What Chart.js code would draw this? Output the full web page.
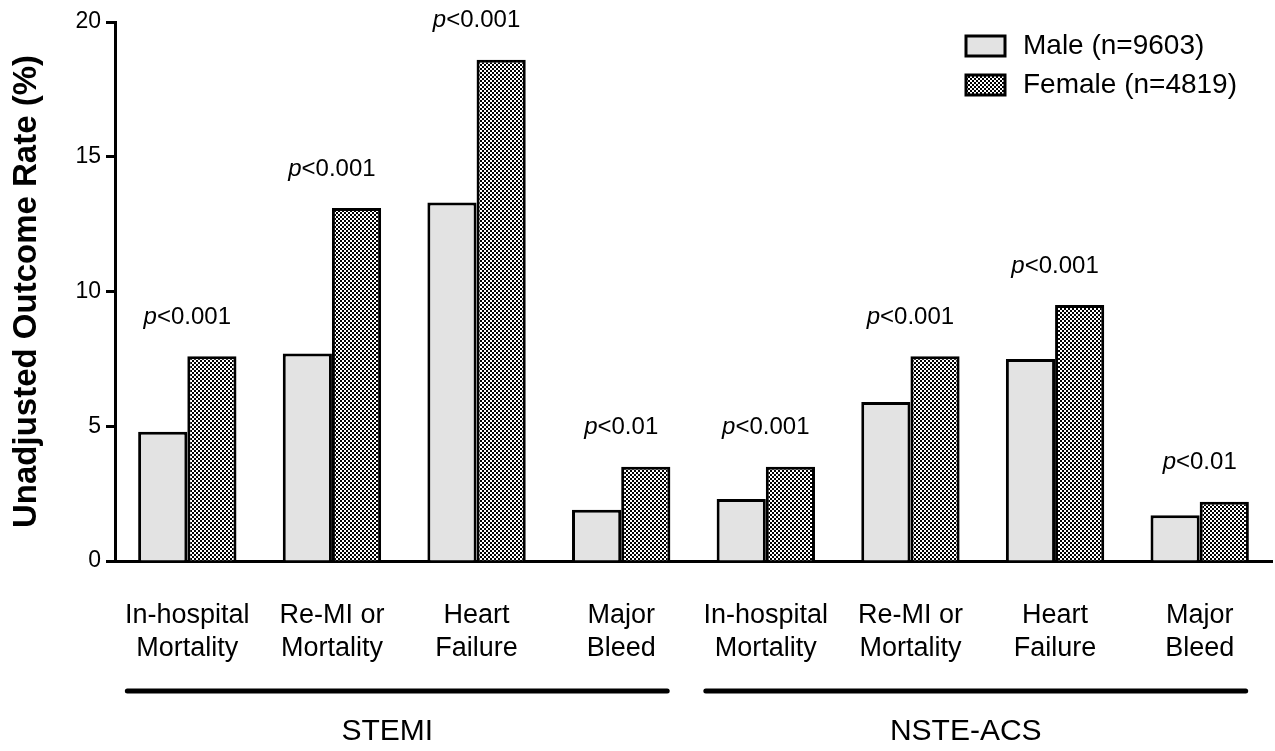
<!DOCTYPE html>
<html>
<head>
<meta charset="utf-8">
<script src="https://cdn.jsdelivr.net/npm/chart.js@4.4.0/dist/chart.umd.min.js"></script>
<style>
  body { margin: 0; background: #fff; }
</style>
</head>
<body>
<canvas id="chart" width="1275" height="751"></canvas>
<script>
let categories = [
    ['In-hospital', 'Mortality'],
    ['Re-MI or', 'Mortality'],
    ['Heart', 'Failure'],
    ['Major', 'Bleed'],
    ['In-hospital', 'Mortality'],
    ['Re-MI or', 'Mortality'],
    ['Heart', 'Failure'],
    ['Major', 'Bleed']
];
let male = [4.8, 7.7, 13.3, 1.9, 2.3, 5.9, 7.5, 1.7];
let female = [7.6, 13.1, 18.6, 3.5, 3.5, 7.6, 9.5, 2.2];
let p_values = ['<0.001', '<0.001', '<0.001', '<0.01', '<0.001', '<0.001', '<0.001', '<0.01'];
let group_names = ['STEMI', 'NSTE-ACS'];
let group_first = [0, 4];
let group_last = [3, 7];
let y_ticks = [0, 5, 10, 15, 20];

const FONT = '"Liberation Sans", Arial, Helvetica, sans-serif';

// checkered fill for the female bars
let make_pattern = function() {
    let c = document.createElement('canvas');
    c.width = 4;
    c.height = 4;
    let g = c.getContext('2d');
    g.fillStyle = '#fff';
    g.fillRect(0, 0, 4, 4);
    g.fillStyle = '#000';
    g.fillRect(0, 0, 2, 2);
    g.fillRect(2, 2, 2, 2);
    return g.createPattern(c, 'repeat');
};
let checker = make_pattern();

let extras = {
    id: 'extras',
    afterDraw(chart) {
        let ctx = chart.ctx;
        let xs = chart.scales.x;
        let ys = chart.scales.y;
        ctx.save();
        ctx.fillStyle = '#000';
        ctx.strokeStyle = '#000';

        // p-values above each pair
        ctx.textBaseline = 'middle';
        p_values.forEach((txt, i) => {
            let cx = xs.getPixelForValue(i);
            let cy = ys.getPixelForValue(Math.max(male[i], female[i])) - 39;
            ctx.font = 'italic 24px ' + FONT;
            let w1 = ctx.measureText('p').width;
            ctx.font = '24px ' + FONT;
            let w2 = ctx.measureText(txt).width;
            let x0 = cx - (w1 + w2) / 2;
            ctx.textAlign = 'left';
            ctx.font = 'italic 24px ' + FONT;
            ctx.fillText('p', x0, cy);
            ctx.font = '24px ' + FONT;
            ctx.fillText(txt, x0 + w1, cy);
        });

        // group bars and names under the axis
        group_names.forEach((name, k) => {
            let x1 = xs.getPixelForValue(group_first[k]) - 60;
            let x2 = xs.getPixelForValue(group_last[k]) + 46;
            ctx.lineWidth = 5;
            ctx.lineCap = 'round';
            ctx.beginPath();
            ctx.moveTo(x1, 691);
            ctx.lineTo(x2, 691);
            ctx.stroke();
            ctx.font = '30px ' + FONT;
            ctx.textAlign = 'center';
            ctx.fillText(name, (x1 + x2) / 2 - 10, 732);
        });

        // legend
        chart.data.datasets.forEach((ds, i) => {
            let by = 36 + i * 39;
            ctx.fillStyle = ds.backgroundColor;
            ctx.fillRect(966, by, 39, 20);
            ctx.lineWidth = 3;
            ctx.strokeRect(966, by, 39, 20);
            ctx.fillStyle = '#000';
            ctx.font = '28px ' + FONT;
            ctx.textAlign = 'left';
            ctx.fillText(ds.label, 1023, by + 10);
        });
        ctx.restore();
    }
};

let ctx = document.getElementById('chart').getContext('2d');
let chart = new Chart(ctx, {
    type: 'bar',
    data: {
        labels: categories,
        datasets: [{
            label: 'Male (n=9603)',
            data: male,
            backgroundColor: '#e3e3e3',
            borderColor: '#000',
            borderWidth: 3,
        }, {
            label: 'Female (n=4819)',
            data: female,
            backgroundColor: checker,
            borderColor: '#000',
            borderWidth: 3,
        }],
    },
    options: {
        responsive: false,
        animation: false,
        layout: { padding: { top: 22, right: 3, left: 0, bottom: 0 } },
        datasets: { bar: { categoryPercentage: 0.68, barPercentage: 1.0 } },
        plugins: {
            legend: { display: false },
            tooltip: { enabled: false },
        },
        scales: {
            x: {
                grid: { display: true, drawOnChartArea: false, drawTicks: false },
                border: { display: true, color: '#000', width: 3 },
                ticks: {
                    color: '#000',
                    padding: 38,
                    font: { family: FONT, size: 27, lineHeight: 1.22 },
                    maxRotation: 0,
                    autoSkip: false,
                },
                afterFit(scale) { scale.height = 190; },
            },
            y: {
                min: 0,
                max: 20,
                afterBuildTicks(scale) { scale.ticks = y_ticks.map(v => ({ value: v })); },
                grid: { drawOnChartArea: false, drawTicks: true, tickLength: 9, tickWidth: 3, color: '#000' },
                border: { color: '#000', width: 3 },
                ticks: {
                    color: '#000',
                    padding: 5,
                    font: { family: FONT, size: 23 },
                },
                title: {
                    display: true,
                    text: 'Unadjusted Outcome Rate (%)',
                    color: '#000',
                    font: { family: FONT, size: 33, weight: 'bold' },
                    padding: { top: 7, bottom: 0 },
                },
                afterFit(scale) { scale.width = 115; },
            },
        },
    },
    plugins: [extras],
});
</script>
</body>
</html>
